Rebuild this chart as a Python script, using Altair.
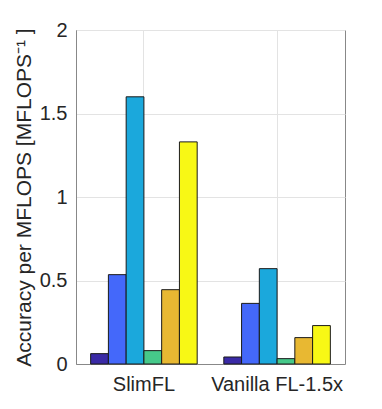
import altair as alt
import pandas as pd

groups = ["SlimFL", "Vanilla FL-1.5x"]
series = ["s1", "s2", "s3", "s4", "s5", "s6"]
slimfl = [0.062, 0.535, 1.60, 0.080, 0.445, 1.33]
vanilla = [0.042, 0.363, 0.571, 0.032, 0.158, 0.230]
colors = ["#3A2AA6", "#4468FA", "#1BA8DC", "#46C98A", "#E8B832", "#F8F815"]
y_ticks = [0, 0.5, 1, 1.5, 2]

rows = []
for g, vals in zip(groups, [slimfl, vanilla]):
    for s, v in zip(series, vals):
        rows.append({"group": g, "series": s, "value": v})
df = pd.DataFrame(rows)

font = "Liberation Sans"

chart = alt.Chart(df).mark_bar(stroke="#1a1a1a", strokeWidth=1).encode(
    x=alt.X("group:N", sort=groups,
            scale=alt.Scale(paddingInner=0.2, paddingOuter=0.11),
            axis=alt.Axis(title=None, labelAngle=0, labelFontSize=20, labelFont=font,
                          labelColor="#262626", labelPadding=10, tickSize=0,
                          domainColor="#888888", grid=True, gridColor="#e3e3e3")),
    xOffset=alt.XOffset("series:N", sort=series, scale=alt.Scale(paddingInner=0, paddingOuter=0)),
    y=alt.Y("value:Q", scale=alt.Scale(domain=[0, 2], nice=False),
            axis=alt.Axis(values=y_ticks, format="~g", title="Accuracy per MFLOPS [MFLOPS⁻¹ ]",
                          titleFontSize=21, titleFont=font, titleFontWeight="normal",
                          titleColor="#262626", titlePadding=5,
                          labelFontSize=20, labelFont=font, labelColor="#262626",
                          labelPadding=9, tickSize=0, domainColor="#888888",
                          grid=True, gridColor="#e3e3e3")),
    color=alt.Color("series:N", sort=series, scale=alt.Scale(domain=series, range=colors), legend=None),
).properties(
    width=269, height=334,
    autosize=alt.AutoSizeParams(type="none"),
    padding={"top": 22, "left": 68, "right": 10, "bottom": 40},
).configure_view(stroke="#888888", strokeWidth=1)

chart.save("out.html", embed_options={"renderer": "svg", "actions": False})
